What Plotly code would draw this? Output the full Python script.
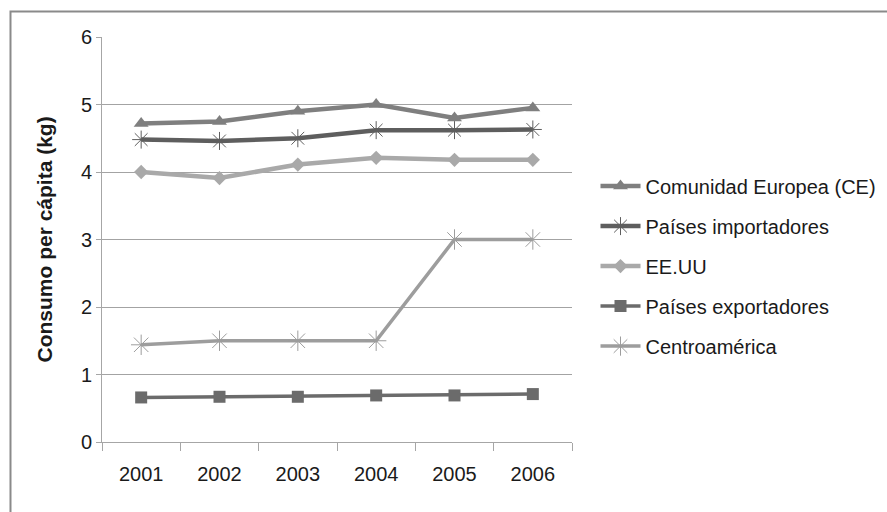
import plotly.graph_objects as go

years = ["2001", "2002", "2003", "2004", "2005", "2006"]

comunidad_europea = [4.72, 4.75, 4.90, 5.00, 4.80, 4.95]
paises_importadores = [4.48, 4.46, 4.50, 4.62, 4.62, 4.63]
ee_uu = [4.00, 3.91, 4.11, 4.21, 4.18, 4.18]
paises_exportadores = [0.66, 0.67, 0.67, 0.69, 0.69, 0.71]
centroamerica = [1.44, 1.50, 1.50, 1.50, 3.00, 3.00]

FONT = "Arial, Liberation Sans, sans-serif"

series = [
    dict(name="Comunidad Europea (CE)", y=comunidad_europea, color="#7f7f7f", width=4.5,
         marker=dict(symbol="triangle-up", size=13, color="#7f7f7f")),
    dict(name="Países importadores", y=paises_importadores, color="#5e5e5e", width=4.5,
         marker=dict(symbol="asterisk-open", size=15, line=dict(color="#6a6a6a", width=1))),
    dict(name="EE.UU", y=ee_uu, color="#a9a9a9", width=4.5,
         marker=dict(symbol="diamond", size=11, color="#a9a9a9")),
    dict(name="Países exportadores", y=paises_exportadores, color="#6b6b6b", width=3.5,
         marker=dict(symbol="square", size=12, color="#6b6b6b")),
    dict(name="Centroamérica", y=centroamerica, color="#9d9d9d", width=3.5,
         marker=dict(symbol="asterisk-open", size=17, line=dict(color="#a8a8a8", width=1))),
]

fig = go.Figure()
for i, s in enumerate(series):
    fig.add_trace(go.Scatter(
        x=years, y=s["y"], name=s["name"], mode="lines+markers",
        line=dict(color=s["color"], width=s["width"]),
        marker=s["marker"], legendgroup=f"g{i}",
    ))

fig.update_layout(
    width=887, height=512,
    margin=dict(l=102, r=315, t=37, b=70, autoexpand=False),
    paper_bgcolor="white", plot_bgcolor="white",
    font=dict(family=FONT, size=20, color="#1a1a1a"),
    showlegend=True,
    legend=dict(
        x=1.05, xanchor="left", y=0.68, yanchor="top",
        font=dict(family=FONT, size=20, color="#1a1a1a"),
        tracegroupgap=11, itemwidth=40, traceorder="grouped",
        bgcolor="rgba(0,0,0,0)",
    ),
    xaxis=dict(
        type="category", range=[-0.5, 5.5], tickson="boundaries",
        ticks="outside", ticklen=8, tickcolor="#a6a6a6",
        showline=True, linecolor="#a6a6a6", linewidth=1,
        showgrid=False, ticklabelstandoff=14,
        tickfont=dict(family=FONT, size=20, color="#1a1a1a"),
    ),
    yaxis=dict(
        range=[0, 6], dtick=1, tick0=0,
        ticks="outside", ticklen=5, tickcolor="#a6a6a6",
        showline=True, linecolor="#a6a6a6", linewidth=1,
        showgrid=True, gridcolor="#a3a3a3", gridwidth=1,
        zeroline=False, ticklabelstandoff=0,
        tickfont=dict(family=FONT, size=20, color="#1a1a1a"),
    ),
    annotations=[dict(
        text="<b>Consumo per cápita (kg)</b>", textangle=-90,
        xref="paper", yref="paper", x=-0.1234, y=0.50,
        xanchor="center", yanchor="middle", showarrow=False,
        font=dict(family=FONT, size=21, color="#1a1a1a"),
    )],
    shapes=[dict(
        type="rect", xref="paper", yref="paper",
        x0=-0.1947, x1=1.70, y0=-0.2, y1=1.063,
        line=dict(color="#8a8a8a", width=2), layer="below",
    )],
)

fig.write_html("out.html")
